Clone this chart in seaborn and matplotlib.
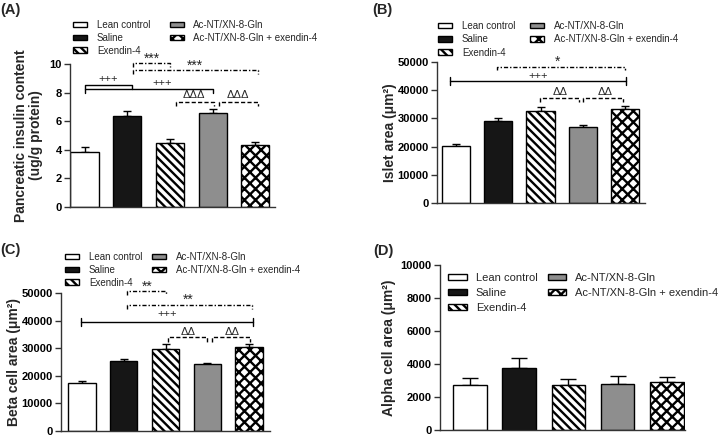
import numpy as np
import pandas as pd
import seaborn as sns
import matplotlib.pyplot as plt
from matplotlib.patches import Patch

groups = ["Lean control", "Saline", "Exendin-4", "Ac-NT/XN-8-Gln",
          "Ac-NT/XN-8-Gln + exendin-4"]
face_colors = ["white", "#161616", "white", "#8e8e8e", "white"]
hatches = ["", "", "\\\\\\\\", "", "xxx"]

insulin_mean = [3.82, 6.39, 4.45, 6.56, 4.33]
insulin_err = [0.40, 0.31, 0.28, 0.28, 0.24]
islet_mean = [20100, 28960, 32740, 26830, 33450]
islet_err = [800, 1060, 1300, 950, 1070]
beta_mean = [17470, 25300, 29760, 24100, 30480]
beta_err = [600, 720, 1800, 480, 1200]
alpha_mean = [2740, 3730, 2700, 2800, 2880]
alpha_err = [400, 630, 390, 450, 340]

# significance marks: (x1, x2, y, drop_left, drop_right, style)
insulin_brackets = [
    (1.14, 2.00, 10.07, 0.28, 0.28, "-."),
    (1.14, 4.07, 9.58, 0.28, 0.28, "-."),
    (0.02, 1.10, 8.53, 0.56, 0.28, "-"),
    (0.02, 3.00, 8.25, 0.00, 0.28, "-"),
    (2.14, 3.02, 7.34, 0.28, 0.28, "--"),
    (3.14, 4.07, 7.34, 0.28, 0.28, "--"),
]
insulin_marks = [("***", 1.58, 10.36), ("***", 2.59, 9.86), ("+++", 0.55, 8.95),
                 ("+++", 1.81, 8.64), ("ΔΔΔ", 2.56, 7.82), ("ΔΔΔ", 3.60, 7.82)]
islet_brackets = [
    (0.97, 4.00, 48340, 1180, 1180, "-."),
    (-0.14, 4.02, 43260, -1400, -1400, "cap"),
    (1.99, 2.91, 37120, 1190, 1190, "--"),
    (3.00, 3.95, 37120, 1190, 1190, "--"),
]
islet_marks = [("*", 2.39, 50200), ("+++", 1.94, 45200),
               ("ΔΔ", 2.46, 39500), ("ΔΔ", 3.53, 39500)]
beta_brackets = [
    (1.08, 2.01, 50720, 1450, 1450, "-."),
    (1.08, 4.07, 45650, 1450, 1450, "-."),
    (-0.02, 4.10, 39490, -1450, -1450, "cap"),
    (2.06, 3.00, 34060, 1810, 1810, "--"),
    (3.11, 4.02, 34060, 1810, 1810, "--"),
]
beta_marks = [("**", 1.56, 52400), ("**", 2.54, 47400), ("+++", 2.04, 42400),
              ("ΔΔ", 2.54, 36000), ("ΔΔ", 3.60, 36000)]

W, H = 721, 436

sns.set_style("ticks")
plt.rcParams["font.family"] = ["Liberation Sans", "DejaVu Sans"]
plt.rcParams["hatch.linewidth"] = 1.7
plt.rcParams["axes.edgecolor"] = "#333333"

fig = plt.figure(figsize=(W / 100, H / 100), dpi=100)


def px_axes(left, top, right, bottom):
    return fig.add_axes([left / W, 1 - bottom / H, (right - left) / W, (bottom - top) / H])


def draw_panel(ax, means, errs, ylabel, ylim, ystep, xlim, width, capsize, label_x):
    df = pd.DataFrame({"group": groups, "value": means})
    sns.barplot(data=df, x="group", y="value", hue="group", hue_order=groups,
                order=groups, palette=face_colors, width=width, edgecolor="black",
                linewidth=1.0, errorbar=None, legend=False, ax=ax, zorder=2)
    for patch, h in zip(ax.patches, hatches):
        patch.set_hatch(h)
    ax.errorbar(range(len(groups)), means, yerr=[np.zeros(len(means)), errs],
                fmt="none", ecolor="black", elinewidth=1.0, capsize=capsize,
                capthick=1.0, zorder=1)
    ax.set_xlim(*xlim)
    ax.set_ylim(*ylim)
    ax.set_yticks(np.arange(ylim[0], ylim[1] + ystep / 2, ystep))
    ax.set_xticks([])
    ax.set_xlabel("")
    ax.set_ylabel(ylabel, fontsize=10, fontweight="bold", linespacing=1.1)
    ax.yaxis.set_label_coords(label_x, 0.5)
    ax.tick_params(axis="y", labelsize=8, length=4, width=1, colors="#333333",
                   labelcolor="black", pad=2)
    for t in ax.get_yticklabels():
        t.set_fontweight("bold")
    sns.despine(ax=ax)
    for s in ("left", "bottom"):
        ax.spines[s].set_linewidth(1.0)


def draw_brackets(ax, brackets, marks):
    for x1, x2, y, dl, dr, style in brackets:
        if style == "cap":
            ax.plot([x1, x2], [y, y], color="black", lw=1.0, clip_on=False)
            for x in (x1, x2):
                ax.plot([x, x], [y + dl, y - dl], color="black", lw=1.0, clip_on=False)
            continue
        if style == "--":
            ls = (0, (3, 1.6))
        elif style == "-.":
            ls = (0, (3, 1.4, 1, 1.4))
        else:
            ls = "-"
        ax.plot([x1, x1, x2, x2], [y - dl, y, y, y - dr], color="black", lw=1.0,
                ls=ls, clip_on=False)
    for text, x, y in marks:
        size = 10 if text.startswith("*") else 8
        ax.text(x, y, text, ha="center", va="center", fontsize=size, clip_on=False)


def add_legend(ax, anchor, fontsize, labelspacing, columnspacing, handlelength, textpad):
    handles = [Patch(facecolor=c, edgecolor="black", hatch=h, linewidth=1.0, label=g)
               for g, c, h in zip(groups, face_colors, hatches)]
    ax.legend(handles=handles, ncol=2, loc="upper left",
              bbox_to_anchor=(anchor[0] / W, 1 - anchor[1] / H),
              bbox_transform=fig.transFigure, frameon=False, fontsize=fontsize,
              borderpad=0, borderaxespad=0, labelspacing=labelspacing,
              columnspacing=columnspacing, handlelength=handlelength,
              handleheight=0.55, handletextpad=textpad)


# (A) insulin content
axA = px_axes(70, 64, 275, 207)
draw_panel(axA, insulin_mean, insulin_err,
           "Pancreatic insulin content\n(ug/g protein)", (0, 10), 2,
           (-0.34, 4.46), 0.66, 3.2, -0.13)
draw_brackets(axA, insulin_brackets, insulin_marks)
add_legend(axA, (73, 20), 7, 0.3, 2.0, 1.45, 1.0)

# (B) islet area
axB = px_axes(437, 62, 645, 203)
draw_panel(axB, islet_mean, islet_err, "Islet area (μm²)", (0, 50000), 10000,
           (-0.45, 4.47), 0.67, 3.2, -0.19)
draw_brackets(axB, islet_brackets, islet_marks)
add_legend(axB, (438, 21), 7, 0.35, 1.5, 1.45, 1.0)

# (C) beta cell area
axC = px_axes(61, 293, 270, 431)
draw_panel(axC, beta_mean, beta_err, "Beta cell area (μm²)", (0, 50000), 10000,
           (-0.50, 4.50), 0.66, 3.2, -0.19)
draw_brackets(axC, beta_brackets, beta_marks)
add_legend(axC, (65, 252), 7, 0.3, 1.0, 1.45, 1.0)

# (D) alpha cell area
axD = px_axes(440, 265, 685, 430)
draw_panel(axD, alpha_mean, alpha_err, "Alpha cell area (μm²)", (0, 10000), 2000,
           (-0.61, 4.37), 0.68, 6.0, -0.18)
add_legend(axD, (448, 273), 8, 0.45, 0.9, 1.7, 0.8)

for lab, x, y in [("(A)", 0, 3), ("(B)", 372, 3), ("(C)", 0, 243), ("(D)", 373, 244)]:
    fig.text(x / W, 1 - y / H, lab, fontsize=10.5, fontweight="bold", ha="left", va="top")

fig.savefig("out.png", dpi=100)
